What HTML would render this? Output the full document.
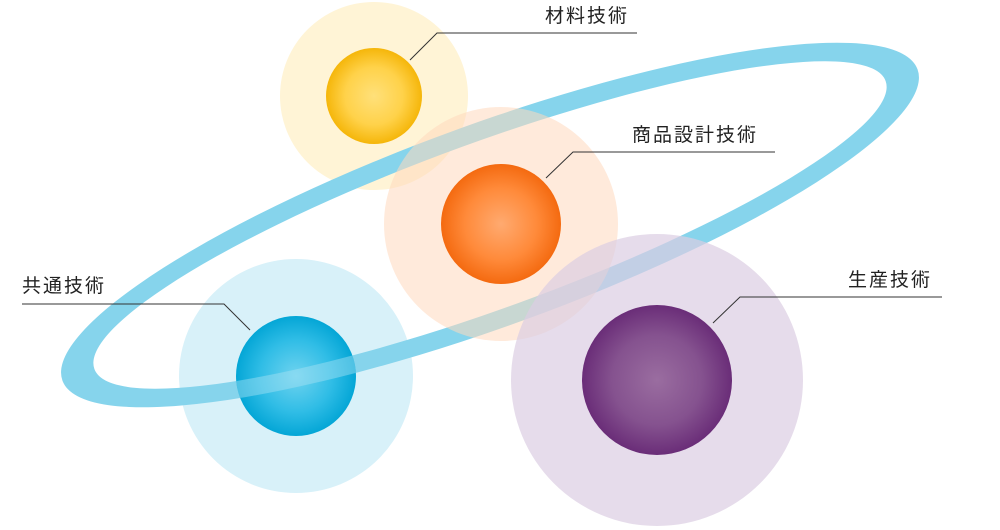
<!DOCTYPE html>
<html><head><meta charset="utf-8"><style>
html,body{margin:0;padding:0;background:#fff;}
svg{display:block}
text{font-family:"Liberation Sans","Noto Sans CJK JP",sans-serif;font-size:19px;fill:#222;letter-spacing:2px}
</style></head><body>
<svg width="1000" height="530" viewBox="0 0 1000 530" xmlns="http://www.w3.org/2000/svg">
<defs>
<radialGradient id="gy"><stop offset="0" stop-color="#ffe07a"/><stop offset="0.6" stop-color="#ffd24a"/><stop offset="1" stop-color="#f5b60a"/></radialGradient>
<radialGradient id="go"><stop offset="0" stop-color="#ffaa70"/><stop offset="0.6" stop-color="#ff8a3a"/><stop offset="1" stop-color="#f46a10"/></radialGradient>
<radialGradient id="gb"><stop offset="0" stop-color="#6fd3ef"/><stop offset="0.6" stop-color="#30bde6"/><stop offset="1" stop-color="#04a6d6"/></radialGradient>
<radialGradient id="gp"><stop offset="0" stop-color="#9a6da0"/><stop offset="0.6" stop-color="#85528f"/><stop offset="1" stop-color="#6a2d78"/></radialGradient>
<clipPath id="cb"><circle cx="296" cy="376" r="60"/></clipPath>
<path id="ring" fill-rule="evenodd" transform="rotate(-20 490 225)" d="M35,225 a455,101 0 1,0 910,0 a455,101 0 1,0 -910,0 Z M69,225 a421,83 0 1,0 842,0 a421,83 0 1,0 -842,0 Z"/>
</defs>
<circle cx="374" cy="96" r="94" fill="#fff4d6"/>
<circle cx="296" cy="376" r="117" fill="#d8f1f9"/>
<use href="#ring" fill="#86d4ec"/>
<circle cx="501" cy="224" r="117" fill="#ffd9bd" opacity="0.55"/>
<circle cx="657" cy="380" r="146" fill="#dccde3" opacity="0.7"/>
<circle cx="374" cy="96" r="48" fill="url(#gy)"/>
<circle cx="501" cy="224" r="60" fill="url(#go)"/>
<circle cx="296" cy="376" r="60" fill="url(#gb)"/>
<use href="#ring" fill="#a8e2f3" opacity="0.45" clip-path="url(#cb)"/>
<circle cx="657" cy="380" r="75" fill="url(#gp)"/>
<g stroke="#333" stroke-width="1" fill="none">
<polyline points="410,60 437,33 637,33"/>
<polyline points="546,178 573,152 775,152"/>
<polyline points="250,330 224,304 22,304"/>
<polyline points="713,323 740,297 942,297"/>
</g>
<text x="545" y="22">材料技術</text>
<text x="632" y="141">商品設計技術</text>
<text x="22" y="292">共通技術</text>
<text x="848" y="286">生産技術</text>
</svg>
</body></html>
